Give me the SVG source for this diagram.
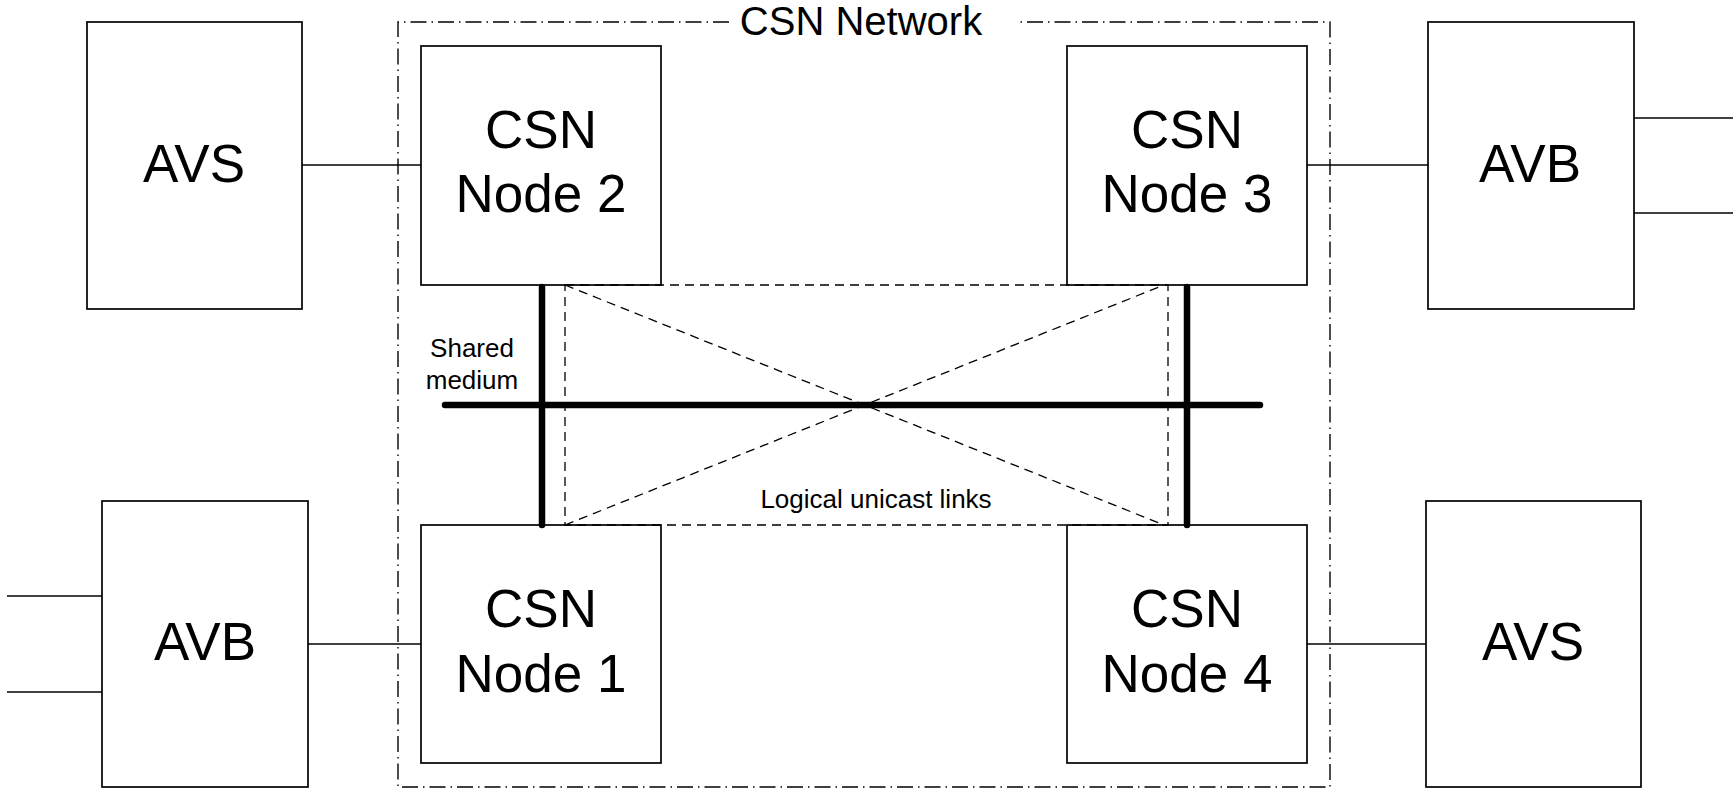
<svg xmlns="http://www.w3.org/2000/svg" width="1733" height="793" viewBox="0 0 1733 793">
<style>
.box{fill:#fff;stroke:#000;stroke-width:1.7}
.big{font-family:"Liberation Sans",Arial,sans-serif;font-size:53px;fill:#000;text-anchor:middle}
.small{font-family:"Liberation Sans",Arial,sans-serif;font-size:26px;fill:#000;text-anchor:middle}
.title{font-family:"Liberation Sans",Arial,sans-serif;font-size:40px;fill:#000;text-anchor:middle}
.wire{stroke:#000;stroke-width:1.4;fill:none}
.net{stroke:#000;stroke-width:1.4;fill:none;stroke-dasharray:16,5,1.5,5}
.logical{stroke:#000;stroke-width:1.3;fill:none;stroke-dasharray:9,6}
.medium{stroke:#000;stroke-width:6.5;stroke-linecap:round;fill:none}
</style>
<rect width="1733" height="793" fill="#fff"/>
<g id="csn-network">
<path class="net" d="M729,22 H398 V787 H1330 V22 H1017"/>
<text class="title" x="861" y="35">CSN Network</text>
</g>
<g id="connectors">
<line class="wire" x1="302" y1="165" x2="421" y2="165"/>
<line class="wire" x1="1307" y1="165" x2="1428" y2="165"/>
<line class="wire" x1="308" y1="644" x2="421" y2="644"/>
<line class="wire" x1="1307" y1="644" x2="1426" y2="644"/>
<line class="wire" x1="1634" y1="118" x2="1733" y2="118"/>
<line class="wire" x1="1634" y1="213" x2="1733" y2="213"/>
<line class="wire" x1="7" y1="596" x2="102" y2="596"/>
<line class="wire" x1="7" y1="692" x2="102" y2="692"/>
</g>
<g id="avs-left">
<rect class="box" x="87" y="22" width="215" height="287"/>
<text class="big" x="194" y="182">AVS</text>
</g>
<g id="avb-right">
<rect class="box" x="1428" y="22" width="206" height="287"/>
<text class="big" x="1530" y="182">AVB</text>
</g>
<g id="avb-left">
<rect class="box" x="102" y="501" width="206" height="286"/>
<text class="big" x="205" y="660">AVB</text>
</g>
<g id="avs-right">
<rect class="box" x="1426" y="501" width="215" height="286"/>
<text class="big" x="1533" y="660">AVS</text>
</g>
<g id="csn-node-2">
<rect class="box" x="421" y="46" width="240" height="239"/>
<text class="big" x="541" y="148">CSN</text>
<text class="big" x="541" y="212">Node 2</text>
</g>
<g id="csn-node-3">
<rect class="box" x="1067" y="46" width="240" height="239"/>
<text class="big" x="1187" y="148">CSN</text>
<text class="big" x="1187" y="212">Node 3</text>
</g>
<g id="csn-node-1">
<rect class="box" x="421" y="525" width="240" height="238"/>
<text class="big" x="541" y="627">CSN</text>
<text class="big" x="541" y="692">Node 1</text>
</g>
<g id="csn-node-4">
<rect class="box" x="1067" y="525" width="240" height="238"/>
<text class="big" x="1187" y="627">CSN</text>
<text class="big" x="1187" y="692">Node 4</text>
</g>
<g id="links">
<rect class="logical" x="565" y="285" width="603" height="240"/>
<line class="logical" x1="565" y1="285" x2="1164" y2="525"/>
<line class="logical" x1="565" y1="525" x2="1164" y2="285"/>
<line class="medium" x1="445" y1="405" x2="1260" y2="405"/>
<line class="medium" x1="542" y1="287" x2="542" y2="525"/>
<line class="medium" x1="1187" y1="287" x2="1187" y2="525"/>
<text class="small" x="472" y="357">Shared</text>
<text class="small" x="472" y="389">medium</text>
<text class="small" x="876" y="508">Logical unicast links</text>
</g>
</svg>
